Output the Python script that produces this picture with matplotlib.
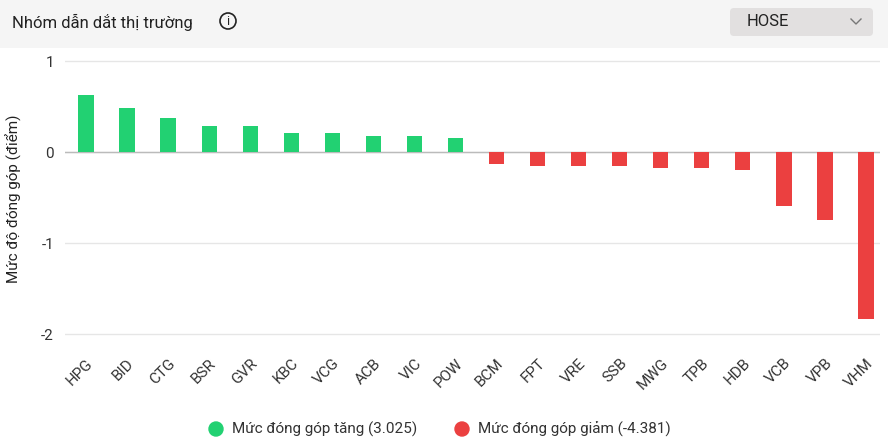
import matplotlib
matplotlib.use("Agg")
import matplotlib.pyplot as plt
from matplotlib.patches import FancyBboxPatch, Circle

plt.rcParams["font.family"] = "Roboto"

pos_labels = ["HPG","BID","CTG","BSR","GVR","KBC","VCG","ACB","VIC","POW"]
pos_values = [0.63,0.49,0.38,0.29,0.29,0.21,0.21,0.18,0.18,0.16]
neg_labels = ["BCM","FPT","VRE","SSB","MWG","TPB","HDB","VCB","VPB","VHM"]
neg_values = [-0.13,-0.15,-0.15,-0.15,-0.17,-0.18,-0.20,-0.59,-0.75,-1.83]
yticks = [1,0,-1,-2]
legend_pos = "Mức đóng góp tăng (3.025)"
legend_neg = "Mức đóng góp giảm (-4.381)"

GREEN = "#22d172"
RED = "#eb4040"

W, H = 888, 447
fig = plt.figure(figsize=(W/100, H/100), dpi=100)
fig.patch.set_facecolor("white")

hdr = fig.add_axes([0, 1-48/H, 1, 48/H])
hdr.set_xlim(0, W); hdr.set_ylim(48, 0); hdr.axis("off")
hdr.add_patch(plt.Rectangle((0,0), W, 48, color="#f5f5f5"))
hdr.text(12, 22, "Nhóm dẫn dắt thị trường", fontsize=12, va="center", color="#222")
hdr.add_patch(Circle((228, 21), 8, fill=False, ec="#222", lw=1.2))
hdr.text(228, 21.5, "i", fontsize=9, ha="center", va="center", color="#222")
hdr.add_patch(FancyBboxPatch((730, 8), 143, 28, boxstyle="round,pad=0,rounding_size=4", fc="#e2e0e0", ec="none"))
hdr.text(747, 22, "HOSE", fontsize=12, va="center", color="#222")
hdr.plot([851, 856, 861], [19, 24, 19], color="#777", lw=1)

ax = fig.add_axes([65/W, 1-345/H, (880-65)/W, (345-52)/H])
labels = pos_labels + neg_labels
values = pos_values + neg_values
colors = [GREEN]*len(pos_values) + [RED]*len(neg_values)
x = range(len(labels))
ax.bar(x, values, width=0.37, color=colors, zorder=3)
ax.set_xlim(-0.51, 19.34)
ax.set_ylim(-2.12, 1.1)
ax.set_yticks(yticks)
ax.set_yticklabels([str(t) for t in yticks], fontsize=11, color="#333")
ax.grid(axis="y", color="#e6e6e6", lw=1, zorder=0)
ax.axhline(0, color="#bbb", lw=1, zorder=2)
for s in ax.spines.values(): s.set_visible(False)
ax.tick_params(length=0, pad=8)
ax.set_xticks(list(x))
ax.set_xticklabels(labels, rotation=45, ha="right", rotation_mode="anchor", fontsize=11, color="#333")
ax.set_ylabel("Mức độ đóng góp (điểm)", fontsize=11, color="#222", labelpad=14)

leg = fig.add_axes([0, 0, 1, 35/H]); leg.set_xlim(0, W); leg.set_ylim(35, 0); leg.axis("off")
leg.add_patch(Circle((216, 17), 7, color=GREEN))
leg.text(232, 17, legend_pos, fontsize=11, va="center", color="#333")
leg.add_patch(Circle((462, 17), 7, color=RED))
leg.text(478, 17, legend_neg, fontsize=11, va="center", color="#333")

fig.savefig("out.png", dpi=100)
